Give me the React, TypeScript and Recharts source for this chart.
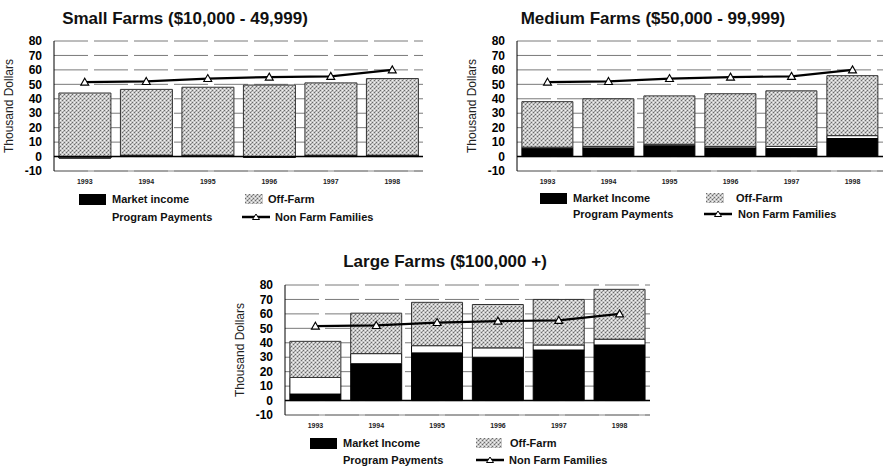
import React from 'react';
import { ComposedChart, Bar, Line, XAxis, YAxis, CartesianGrid, ReferenceLine } from 'recharts';

const years = ['1993', '1994', '1995', '1996', '1997', '1998'];
const yTicks = [-10, 0, 10, 20, 30, 40, 50, 60, 70, 80];

const nonFarm = [51.5, 52, 54, 55, 55.5, 60];

const smallMarket = [-1, 0.5, 0.5, -0.5, 0.5, 0.5];
const smallProgram = [0.5, 0.5, 0.5, 0.5, 0.5, 0.5];
const smallOffFarm = [44.5, 45.5, 47, 49.5, 50, 53];

const mediumMarket = [5.5, 6, 7.5, 6, 5.5, 12.5];
const mediumProgram = [1, 1, 1, 1, 1.5, 2];
const mediumOffFarm = [31.5, 33, 33.5, 36.5, 38.5, 41.5];

const largeMarket = [4.5, 25.5, 33, 30, 35, 38.5];
const largeProgram = [11.5, 7, 5, 6.5, 3.5, 4];
const largeOffFarm = [25, 28, 30, 30, 31.5, 34.5];

const font = '"Liberation Sans", Arial, sans-serif';

function rows(market: number[], program: number[], offFarm: number[]) {
  return years.map((year, i) => ({
    year,
    market: market[i],
    program: program[i],
    offFarm: offFarm[i],
    nonFarm: nonFarm[i],
  }));
}

const Tri = (p: any) => {
  const { cx, cy, index } = p;
  if (cx == null || cy == null) return <g key={`t${index}`} />;
  return (
    <path
      key={`t${index}`}
      d={`M${cx},${cy - 4} L${cx + 4},${cy + 3} L${cx - 4},${cy + 3} Z`}
      fill="#fff"
      stroke="#000"
      strokeWidth={1.1}
    />
  );
};

function FarmChart({ data, left, top, width, right }: any) {
  return (
    <div style={{ position: 'absolute', left, top }}>
      <ComposedChart
        width={width}
        height={160}
        data={data}
        margin={{ top: 11, right, left: 0, bottom: 0 }}
        barCategoryGap="8%"
      >
        <CartesianGrid vertical={false} stroke="#7a7a7a" strokeDasharray="34 6" />
        <XAxis
          dataKey="year"
          height={19}
          tickLine={false}
          tickMargin={2}
          axisLine={{ stroke: '#888' }}
          tick={{ fontSize: 7, fontWeight: 'bold', fill: '#222', fontFamily: font }}
        />
        <YAxis
          width={54}
          domain={[-10, 80]}
          ticks={yTicks}
          interval={0}
          tickLine={false}
          tickMargin={6}
          axisLine={{ stroke: '#000' }}
          tick={{ fontSize: 12, fontWeight: 'bold', fill: '#000', fontFamily: font }}
          label={{
            content: (props: any) => {
              const vb = props.viewBox || { x: 0, y: 0, height: 0 };
              const cy = vb.y + vb.height / 2;
              return (
                <text
                  x={9}
                  y={cy}
                  transform={`rotate(-90, 9, ${cy})`}
                  textAnchor="middle"
                  dominantBaseline="central"
                  fontSize={12}
                  fontFamily={font}
                  fill="#222"
                >
                  Thousand Dollars
                </text>
              );
            },
          }}
        />
        <Bar dataKey="market" stackId="a" fill="#000" stroke="#000" isAnimationActive={false} />
        <Bar dataKey="program" stackId="a" fill="#fff" stroke="#000" isAnimationActive={false} />
        <Bar dataKey="offFarm" stackId="a" fill="url(#stip)" stroke="#333" isAnimationActive={false} />
        <ReferenceLine y={0} stroke="#000" strokeWidth={1.5} />
        <Line
          dataKey="nonFarm"
          stroke="#000"
          strokeWidth={2.2}
          dot={Tri}
          activeDot={false}
          isAnimationActive={false}
        />
      </ComposedChart>
    </div>
  );
}

const textStyle: React.CSSProperties = {
  position: 'absolute',
  fontFamily: font,
  fontWeight: 'bold',
  fontSize: 11,
  color: '#111',
  lineHeight: '12px',
  whiteSpace: 'nowrap',
};

function Legend({ x1, t1, x2, w2, t2, lx, lt, y1, y2, marketText }: any) {
  return (
    <>
      <div style={{ position: 'absolute', left: x1, top: y1 - 5, width: 27, height: 11, background: '#000' }} />
      <div style={{ ...textStyle, left: t1, top: y1 - 6 }}>{marketText}</div>
      <div style={{ ...textStyle, left: t1, top: y2 - 6 }}>Program Payments</div>
      <svg style={{ position: 'absolute', left: x2, top: y1 - 5 }} width={w2} height={10}>
        <rect width={w2} height={10} fill="url(#stip)" />
      </svg>
      <div style={{ ...textStyle, left: t2, top: y1 - 6 }}>Off-Farm</div>
      <svg style={{ position: 'absolute', left: lx, top: y2 - 6 }} width={28} height={12}>
        <line x1={0} y1={6} x2={28} y2={6} stroke="#000" strokeWidth={2.5} />
        <path d="M14,3 L17.5,8.5 L10.5,8.5 Z" fill="#fff" stroke="#000" strokeWidth={1} />
      </svg>
      <div style={{ ...textStyle, left: lt, top: y2 - 6 }}>Non Farm Families</div>
    </>
  );
}

const titleStyle: React.CSSProperties = {
  position: 'absolute',
  fontFamily: font,
  fontWeight: 'bold',
  fontSize: 17,
  color: '#111',
  whiteSpace: 'nowrap',
  transform: 'translate(-50%, -50%)',
};

export default function App() {
  return (
    <div style={{ position: 'absolute', left: 0, top: 0, width: 885, height: 468, background: '#fff' }}>
      <svg width={0} height={0} style={{ position: 'absolute' }}>
        <defs>
          <pattern id="stip" width="4" height="4" patternUnits="userSpaceOnUse">
            <rect width="4" height="4" fill="#c8c8c8" />
            <rect x="0" y="0" width="1" height="1" fill="#6a6a6a" />
            <rect x="2" y="2" width="1" height="1" fill="#6a6a6a" />
            <rect x="2" y="0" width="1" height="1" fill="#f2f2f2" />
            <rect x="0" y="2" width="1" height="1" fill="#f2f2f2" />
            <rect x="3" y="1" width="1" height="1" fill="#959595" />
          </pattern>
        </defs>
      </svg>

      <div style={{ ...titleStyle, left: 185, top: 19 }}>Small Farms ($10,000 - 49,999)</div>
      <div style={{ ...titleStyle, left: 653, top: 19 }}>Medium Farms ($50,000 - 99,999)</div>
      <div style={{ ...titleStyle, left: 445, top: 262 }}>Large Farms ($100,000 +)</div>

      <FarmChart data={rows(smallMarket, smallProgram, smallOffFarm)} left={0} top={30} width={430} right={7} />
      <FarmChart data={rows(mediumMarket, mediumProgram, mediumOffFarm)} left={463} top={30} width={422} right={2} />
      <FarmChart data={rows(largeMarket, largeProgram, largeOffFarm)} left={231} top={274} width={424} right={5} />

      <Legend x1={79} t1={112} x2={245} w2={18} t2={268} lx={242} lt={275} y1={199} y2={217} marketText="Market income" />
      <Legend x1={540} t1={573} x2={706} w2={18} t2={736} lx={704} lt={738} y1={198} y2={214} marketText="Market Income" />
      <Legend x1={310} t1={343} x2={476} w2={26} t2={510} lx={476} lt={509} y1={443} y2={460} marketText="Market Income" />
    </div>
  );
}
